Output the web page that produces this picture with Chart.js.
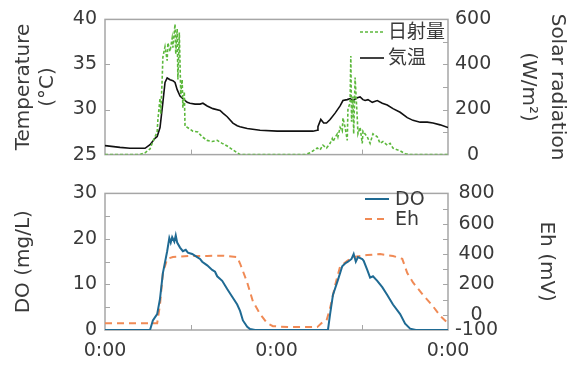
<!DOCTYPE html>
<html>
<head>
<meta charset="utf-8">
<script src="https://cdn.jsdelivr.net/npm/chart.js@4.4.1/dist/chart.umd.min.js"></script>
<style>
  html, body { margin: 0; padding: 0; background: #fff; }
  #wrap { position: relative; width: 574px; height: 368px; }
  #topChart { position: absolute; left: 0; top: 0; }
  #bottomChart { position: absolute; left: 0; top: 174px; }
</style>
</head>
<body>
<div id="wrap">
  <canvas id="topChart" width="574" height="174"></canvas>
  <canvas id="bottomChart" width="574" height="194"></canvas>
</div>
<script>
const FONT = '"DejaVu Sans", "Noto Sans CJK JP", sans-serif';
const TEXT = '#3a3a3a';
const FRAME = '#a6a6a6';

// time axis: hours since the first 0:00, two days
const xTickLabels = ['0:00', '0:00', '0:00'];

// air temperature (°C)
const tempHours = [0, 2.1, 3.5, 4.9, 5.6, 6.3, 7.0, 7.3, 7.7, 8.1, 8.4, 8.7, 9.1, 9.5, 9.8, 10.1, 10.5, 10.9, 11.5, 11.9, 12.6, 13.3, 13.7, 14.3, 15.1, 16.1, 16.5, 17.1, 17.9, 18.5, 18.9, 19.9, 21.7, 24.1, 26.9, 29.1, 29.7, 29.8, 30.2, 30.6, 31.0, 31.5, 32.2, 32.9, 33.3, 33.9, 34.3, 34.7, 35.3, 35.7, 36.1, 36.4, 36.8, 37.4, 38.1, 38.8, 39.5, 40.3, 41.3, 42.3, 43.1, 44.1, 45.1, 45.9, 46.9, 48];
const tempValues = [26.0, 25.8, 25.7, 25.7, 25.7, 26.1, 26.8, 27.0, 28.0, 30.8, 33.0, 33.5, 33.3, 33.2, 33.0, 32.2, 31.5, 31.2, 30.8, 30.7, 30.6, 30.6, 30.7, 30.4, 30.1, 29.9, 29.6, 29.2, 28.5, 28.2, 28.1, 27.9, 27.7, 27.6, 27.6, 27.6, 27.7, 28.1, 28.9, 28.5, 28.5, 28.9, 29.6, 30.4, 31.0, 31.1, 31.2, 31.0, 31.3, 31.4, 31.1, 31.0, 31.1, 30.8, 31.0, 30.7, 30.5, 30.1, 29.7, 29.1, 28.8, 28.6, 28.6, 28.5, 28.3, 28.0];

// solar radiation (W/m2)
const solarHours = [0, 4.9, 5.6, 6.3, 6.7, 7.3, 7.4, 7.7, 7.8, 8.0, 8.1, 8.4, 8.7, 8.8, 9.1, 9.4, 9.5, 9.8, 9.9, 10.1, 10.2, 10.4, 10.6, 10.8, 10.9, 11.1, 11.2, 11.5, 11.9, 12.3, 13.0, 13.6, 14.3, 15.0, 15.7, 16.4, 17.1, 17.9, 18.9, 28.0, 28.7, 29.7, 30.1, 30.5, 31.0, 31.5, 31.8, 31.9, 32.5, 32.6, 32.9, 33.2, 33.3, 33.6, 33.9, 34.0, 34.3, 34.4, 34.5, 34.7, 34.8, 35.0, 35.3, 35.4, 35.7, 36.0, 36.1, 36.7, 37.1, 37.5, 38.1, 38.5, 38.9, 39.5, 39.9, 40.3, 40.9, 41.3, 42.0, 42.7, 48];
const solarValues = [0, 0, 8, 25, 58, 100, 154, 250, 180, 333, 433, 479, 417, 496, 458, 517, 475, 579, 446, 558, 333, 542, 267, 333, 208, 279, 125, 121, 113, 104, 100, 79, 63, 58, 63, 50, 38, 21, 0, 0, 8, 29, 21, 42, 29, 50, 71, 58, 92, 79, 121, 104, 163, 121, 63, 204, 229, 438, 146, 258, 92, 342, 163, 92, 121, 50, 104, 79, 50, 92, 79, 50, 58, 42, 50, 29, 21, 17, 4, 0, 0];

// dissolved oxygen (mg/L)
const doHours = [0, 6.3, 6.7, 7.3, 7.7, 8.1, 8.7, 9.0, 9.2, 9.4, 9.7, 9.9, 10.1, 10.5, 10.9, 11.3, 11.6, 12.2, 12.9, 13.3, 13.6, 14.3, 15.0, 15.4, 15.7, 16.4, 17.1, 17.8, 18.5, 18.9, 19.3, 19.9, 20.3, 21.0, 31.2, 31.5, 31.9, 32.6, 33.2, 33.6, 34.0, 34.5, 34.8, 35.1, 35.4, 36.0, 36.2, 36.7, 37.1, 37.5, 38.1, 38.8, 39.5, 40.3, 41.3, 42.0, 42.7, 43.5, 48];
const doValues = [0, 0, 2.1, 3.5, 6.9, 12.5, 17.3, 20.2, 19.2, 20.4, 19.4, 20.8, 19.2, 18.1, 17.3, 17.6, 17.0, 16.7, 16.0, 15.6, 15.0, 14.2, 13.2, 12.8, 11.8, 10.8, 9.0, 7.3, 5.6, 4.2, 2.1, 0.7, 0.2, 0, 0, 3.5, 7.7, 11.0, 14.0, 14.6, 15.0, 15.6, 16.7, 15.0, 16.0, 15.6, 15.2, 13.2, 11.5, 11.8, 10.8, 9.4, 7.7, 5.6, 3.5, 1.4, 0.3, 0, 0];

// redox potential (mV)
const ehHours = [0, 6.3, 7.3, 7.7, 8.1, 8.7, 9.5, 11.9, 14.3, 16.5, 18.5, 18.9, 19.9, 20.7, 21.7, 22.7, 23.5, 25.9, 28.3, 29.7, 30.4, 31.0, 31.5, 32.2, 32.9, 33.9, 34.7, 36.7, 38.5, 40.3, 41.6, 42.3, 43.1, 44.5, 45.9, 46.9, 48];
const ehValues = [-56, -56, -56, 69, 275, 369, 381, 388, 388, 390, 381, 338, 213, 88, 6, -56, -75, -81, -81, -81, -50, -38, 44, 194, 319, 356, 381, 394, 400, 388, 369, 275, 213, 131, 56, -6, -56];

const tempTicks = [25, 30, 35, 40];
const solarTicks = [0, 200, 400, 600];
const doTicks = [0, 10, 20, 30];
const ehTicks = [-100, 0, 200, 400, 600, 800];

const pts = (hs, vs) => hs.map((h, i) => ({ x: h, y: vs[i] }));

// grey frame round the plot area, short tick marks pointing inwards
const frameTicks = {
  id: 'frameTicks',
  beforeDatasetsDraw(chart, args, opts) {
    const { ctx, chartArea: a, scales } = chart;
    ctx.save();
    ctx.strokeStyle = FRAME;
    ctx.lineWidth = 1.5;
    ctx.strokeRect(a.left, a.top, a.right - a.left, a.bottom - a.top);
    ctx.lineWidth = 1;
    ctx.beginPath();
    (opts.x || []).forEach(v => {
      const p = Math.round(scales.x.getPixelForValue(v)) + 0.5;
      ctx.moveTo(p, a.bottom); ctx.lineTo(p, a.bottom - 5);
    });
    (opts.y || []).forEach(v => {
      const p = Math.round(scales.y.getPixelForValue(v)) + 0.5;
      ctx.moveTo(a.left, p); ctx.lineTo(a.left + 5, p);
    });
    (opts.y1 || []).forEach(v => {
      const p = Math.round(scales.y1.getPixelForValue(v)) + 0.5;
      ctx.moveTo(a.right, p); ctx.lineTo(a.right - 5, p);
    });
    ctx.stroke();
    ctx.restore();
  }
};

// legend drawn inside the plot, line sample + label
const lineLegend = {
  id: 'lineLegend',
  afterDraw(chart, args, opts) {
    const ctx = chart.ctx;
    ctx.save();
    ctx.font = opts.size + 'px ' + FONT;
    ctx.textBaseline = 'middle';
    ctx.fillStyle = TEXT;
    chart.data.datasets.forEach((ds, i) => {
      const y = opts.y[i];
      ctx.strokeStyle = ds.borderColor;
      ctx.lineWidth = ds.borderWidth;
      ctx.setLineDash(ds.borderDash || []);
      ctx.beginPath();
      ctx.moveTo(opts.x, y);
      ctx.lineTo(opts.x + opts.len, y);
      ctx.stroke();
      ctx.fillText(ds.label, opts.x + opts.len + opts.gap, y + 1);
    });
    ctx.restore();
  }
};

const fixWidth = w => s => { s.width = w; };
const setTicks = list => s => { s.ticks = list.map(v => ({ value: v })); };

const yAxis = (min, max, list, title, pad, pos, width, lh) => ({
  type: 'linear',
  position: pos,
  min: min,
  max: max,
  afterBuildTicks: setTicks(list),
  afterFit: fixWidth(width),
  grid: { display: false, drawTicks: false },
  border: { display: false },
  ticks: {
    color: TEXT,
    font: { family: FONT, size: 19 },
    padding: pos === 'left' ? 8 : 7,
    crossAlign: pos === 'left' ? 'near' : 'center'
  },
  title: {
    display: true,
    text: title,
    color: TEXT,
    font: { family: FONT, size: 20, lineHeight: lh || 1.2 },
    padding: { top: pad, bottom: 0 }
  }
});

new Chart(document.getElementById('topChart'), {
  type: 'line',
  data: {
    datasets: [
      {
        label: '日射量',
        data: pts(solarHours, solarValues),
        yAxisID: 'y1',
        borderColor: '#5cb83c',
        borderWidth: 1.6,
        borderDash: [3, 2],
        pointRadius: 0
      },
      {
        label: '気温',
        data: pts(tempHours, tempValues),
        yAxisID: 'y',
        borderColor: '#111111',
        borderWidth: 1.6,
        pointRadius: 0
      }
    ]
  },
  options: {
    responsive: false,
    animation: false,
    layout: { padding: { top: 18, bottom: 12, left: 0, right: 0 } },
    scales: {
      x: { type: 'linear', min: 0, max: 48, display: false },
      y: yAxis(25, 40, tempTicks, ['Temperature', '(°C)'], 12, 'left', 105),
      y1: yAxis(0, 600, solarTicks, ['Solar radiation', '(W/m²)'], 2, 'right', 126, 1.45)
    },
    plugins: {
      legend: { display: false },
      tooltip: { enabled: false },
      frameTicks: { x: [12, 36], y: [30, 35], y1: [100, 200, 300, 400, 500] },
      lineLegend: { x: 360, len: 24, gap: 4, size: 19, y: [32, 58] }
    }
  },
  plugins: [frameTicks, lineLegend]
});

new Chart(document.getElementById('bottomChart'), {
  type: 'line',
  data: {
    datasets: [
      {
        label: 'DO',
        data: pts(doHours, doValues),
        yAxisID: 'y',
        borderColor: '#1f6a93',
        borderWidth: 2,
        pointRadius: 0
      },
      {
        label: 'Eh',
        data: pts(ehHours, ehValues),
        yAxisID: 'y1',
        borderColor: '#f08a55',
        borderWidth: 2,
        borderDash: [7, 5],
        pointRadius: 0
      }
    ]
  },
  options: {
    responsive: false,
    animation: false,
    layout: { padding: { top: 12, bottom: 0, left: 0, right: 0 } },
    scales: {
      x: {
        type: 'linear',
        min: 0,
        max: 48,
        afterBuildTicks: setTicks([0, 24, 48]),
        afterFit: s => { s.height = 38; },
        grid: { display: false, drawTicks: false },
        border: { display: false },
        ticks: {
          color: TEXT,
          font: { family: FONT, size: 19 },
          padding: 10,
          maxRotation: 0,
          autoSkip: false,
          callback: (v, i) => xTickLabels[i]
        }
      },
      y: yAxis(0, 30, doTicks, 'DO (mg/L)', 12, 'left', 105),
      y1: yAxis(-100, 800, ehTicks, 'Eh (mV)', 16, 'right', 126)
    },
    plugins: {
      legend: { display: false },
      tooltip: { enabled: false },
      frameTicks: { x: [12, 36], y: [5, 10, 15, 20, 25], y1: [0, 100, 200, 300, 400, 500, 600, 700] },
      lineLegend: { x: 365, len: 24, gap: 6, size: 19, y: [25, 45] }
    }
  },
  plugins: [frameTicks, lineLegend]
});
</script>
</body>
</html>
